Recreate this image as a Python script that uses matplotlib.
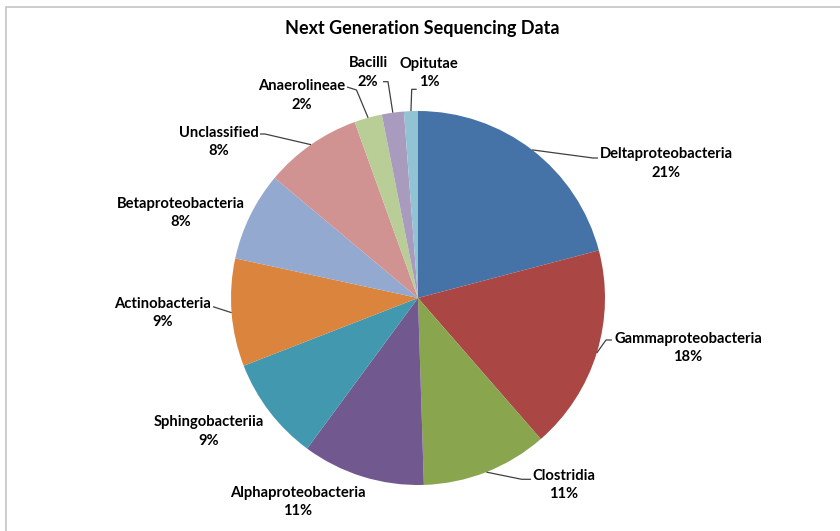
import numpy as np
import matplotlib
matplotlib.use("Agg")
import matplotlib.pyplot as plt
from matplotlib.patches import Rectangle

# ---------------- data ----------------
title = "Next Generation Sequencing Data"
categories = ["Deltaproteobacteria", "Gammaproteobacteria", "Clostridia",
              "Alphaproteobacteria", "Sphingobacteriia", "Actinobacteria",
              "Betaproteobacteria", "Unclassified", "Anaerolineae",
              "Bacilli", "Opitutae"]
values = [20.9, 17.7, 10.9, 10.6, 9.0, 9.3, 7.7, 8.4, 2.4, 1.9, 1.2]
colors = ["#4572A7", "#AA4643", "#89A54E", "#71588F", "#4198AF", "#DB843D",
          "#93A9CF", "#D19392", "#B9CD96", "#A99BBD", "#92C3D5"]

# ---------------- layout (pixel coordinates, origin top-left) ----------------
W, H = 840, 531
center_px = (418, 298)
radius_px = 187
label_pos = [(666, 163.5), (688, 348), (564, 485), (298, 502), (209, 431.7),
             (163, 313), (181, 213), (219, 142), (302, 95.5), (368, 72.5),
             (429, 73)]
# leader: points from label side toward the wedge (edge point appended)
leaders = [[(598, 158), (593, 158)],
           [(612, 340), (606, 340)],
           [(531, 479.3), (521.7, 479.3)],
           None,
           None,
           [(213, 306.7)],
           None,
           [(260, 134), (265, 134)],
           [(347, 87), (356.5, 90)],
           [(383, 81.7), (388, 81.7)],
           [(416.7, 89.3), (411.7, 89.3)]]

FONT = ["Lato", "DejaVu Sans"]

fig = plt.figure(figsize=(W / 100, H / 100), dpi=100)
ax = fig.add_axes([0, 0, 1, 1])


def fy(py):
    return H - py


wedges, _ = ax.pie(values, colors=colors, startangle=90, counterclock=False,
                   center=(center_px[0], fy(center_px[1])), radius=radius_px,
                   wedgeprops=dict(linewidth=0), frame=True)
ax.set_xlim(0, W)
ax.set_ylim(0, H)
ax.set_aspect("equal")
ax.axis("off")

# border rectangle (cut off at right and bottom)
ax.add_patch(Rectangle((5.5, fy(6.5) - 600), 900, 600, fill=False,
                       edgecolor="#C4C4C4", linewidth=1.2, clip_on=False))

ax.text(422, fy(28.5), title, ha="center", va="center", fontsize=13,
        fontweight="bold", family=FONT, color="black")

for i, (name, v) in enumerate(zip(categories, values)):
    x, y = label_pos[i]
    ax.text(x, fy(y), f"{name}\n{round(v)}%", ha="center", va="center",
            multialignment="center", fontsize=10.6, fontweight="bold",
            family=FONT, color="black", linespacing=1.45)
    if leaders[i] is not None:
        w = wedges[i]
        mid = np.deg2rad((w.theta1 + w.theta2) / 2)
        ex = w.center[0] + w.r * np.cos(mid)
        ey = w.center[1] + w.r * np.sin(mid)
        pts = [(px, fy(py)) for px, py in leaders[i]] + [(ex, ey)]
        xs, ys = zip(*pts)
        ax.plot(xs, ys, color="#404040", linewidth=0.9, solid_capstyle="butt")

fig.savefig("out.png", dpi=100)
